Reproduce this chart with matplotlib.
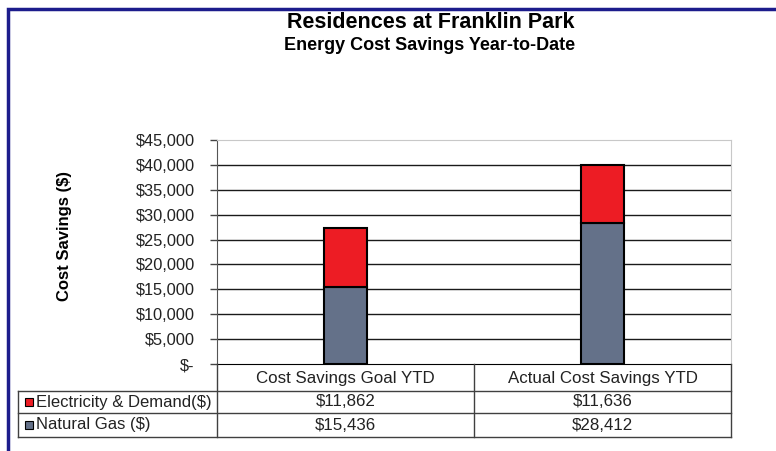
import matplotlib
matplotlib.use("Agg")
import matplotlib.pyplot as plt
from matplotlib.lines import Line2D
from matplotlib.patches import Rectangle

plt.rcParams['font.family'] = ['Liberation Sans', 'DejaVu Sans']

# data
categories = ['Cost Savings Goal YTD', 'Actual Cost Savings YTD']
series_names = ['Electricity & Demand($)', 'Natural Gas ($)']
electricity = [11862, 11636]
natural_gas = [15436, 28412]
y_ticks = [0, 5000, 10000, 15000, 20000, 25000, 30000, 35000, 40000, 45000]

red = '#ED1C24'
slate = '#647189'

W, H = 776, 451
def fx(x):
    return x / W
def fy(y):
    return 1 - y / H

fig = plt.figure(figsize=(W / 100, H / 100), dpi=100)
ax = fig.add_axes([fx(217), fy(364), fx(731) - fx(217), fy(140) - fy(364)])

xs = list(range(len(categories)))
ax.bar(xs, natural_gas, width=0.167, color=slate, edgecolor='black', linewidth=1.5, zorder=3)
ax.bar(xs, electricity, width=0.167, bottom=natural_gas, color=red, edgecolor='black',
       linewidth=1.5, zorder=3)

ax.set_xlim(-0.5, len(categories) - 0.5)
ax.set_ylim(0, 45000)
ax.set_xticks([])
ax.set_yticks(y_ticks)
ax.set_yticklabels(['$-' if v == 0 else '${:,}'.format(v) for v in y_ticks], fontsize=11.8,
                   color='#222222')
ax.tick_params(axis='y', length=5, width=1, pad=11, color='#444444')
for v in y_ticks[1:-1]:
    ax.axhline(v, color='#1a1a1a', linewidth=1, zorder=1)

for side in ['top', 'right']:
    ax.spines[side].set_color('#c8c8c8')
ax.spines['left'].set_color('#555555')
ax.spines['bottom'].set_color('black')

# titles
fig.text(fx(431), fy(23), 'Residences at Franklin Park', ha='center', va='center',
         fontsize=15.5, fontweight='bold')
fig.text(fx(430), fy(45), 'Energy Cost Savings Year-to-Date', ha='center', va='center',
         fontsize=13, fontweight='bold')
fig.text(fx(65), fy(236), 'Cost Savings ($)', ha='center', va='center', rotation=90,
         fontsize=12, fontweight='bold')

# data table under the chart
col_edges = [217, 474, 731]
row_edges = [364, 391, 413, 437]
line_c = '#404040'

def hline(x0, x1, y):
    fig.add_artist(Line2D([fx(x0), fx(x1)], [fy(y), fy(y)], color=line_c, linewidth=1))

def vline(x, y0, y1):
    fig.add_artist(Line2D([fx(x), fx(x)], [fy(y0), fy(y1)], color=line_c, linewidth=1))

hline(18, 731, row_edges[1])
hline(18, 731, row_edges[2])
hline(18, 731, row_edges[3])
for x in col_edges:
    vline(x, row_edges[0], row_edges[3])
vline(18, row_edges[1], row_edges[3])

for i, cat in enumerate(categories):
    cx = (col_edges[i] + col_edges[i + 1]) / 2
    fig.text(fx(cx), fy(378), cat, ha='center', va='center', fontsize=12.2, color='#222222')

rows = [electricity, natural_gas]
colors = [red, slate]
for r, (name, vals, c) in enumerate(zip(series_names, rows, colors)):
    cy = (row_edges[r + 1] + row_edges[r + 2]) / 2
    fig.add_artist(Rectangle((fx(25), fy(cy + 4)), fx(8), 8 / H, facecolor=c,
                             edgecolor='black', linewidth=0.8, transform=fig.transFigure))
    fig.text(fx(36), fy(cy), name, ha='left', va='center', fontsize=12, color='#222222')
    for i, v in enumerate(vals):
        cx = (col_edges[i] + col_edges[i + 1]) / 2
        fig.text(fx(cx), fy(cy), '${:,}'.format(v), ha='center', va='center', fontsize=12.2,
                 color='#222222')

# chart area border (only left and top visible)
fig.add_artist(Rectangle((fx(8), fy(470)), fx(800), 461 / H, facecolor='none',
                         edgecolor='#1c1c8c', linewidth=2.5, transform=fig.transFigure))

fig.savefig('out.png', dpi=100)
